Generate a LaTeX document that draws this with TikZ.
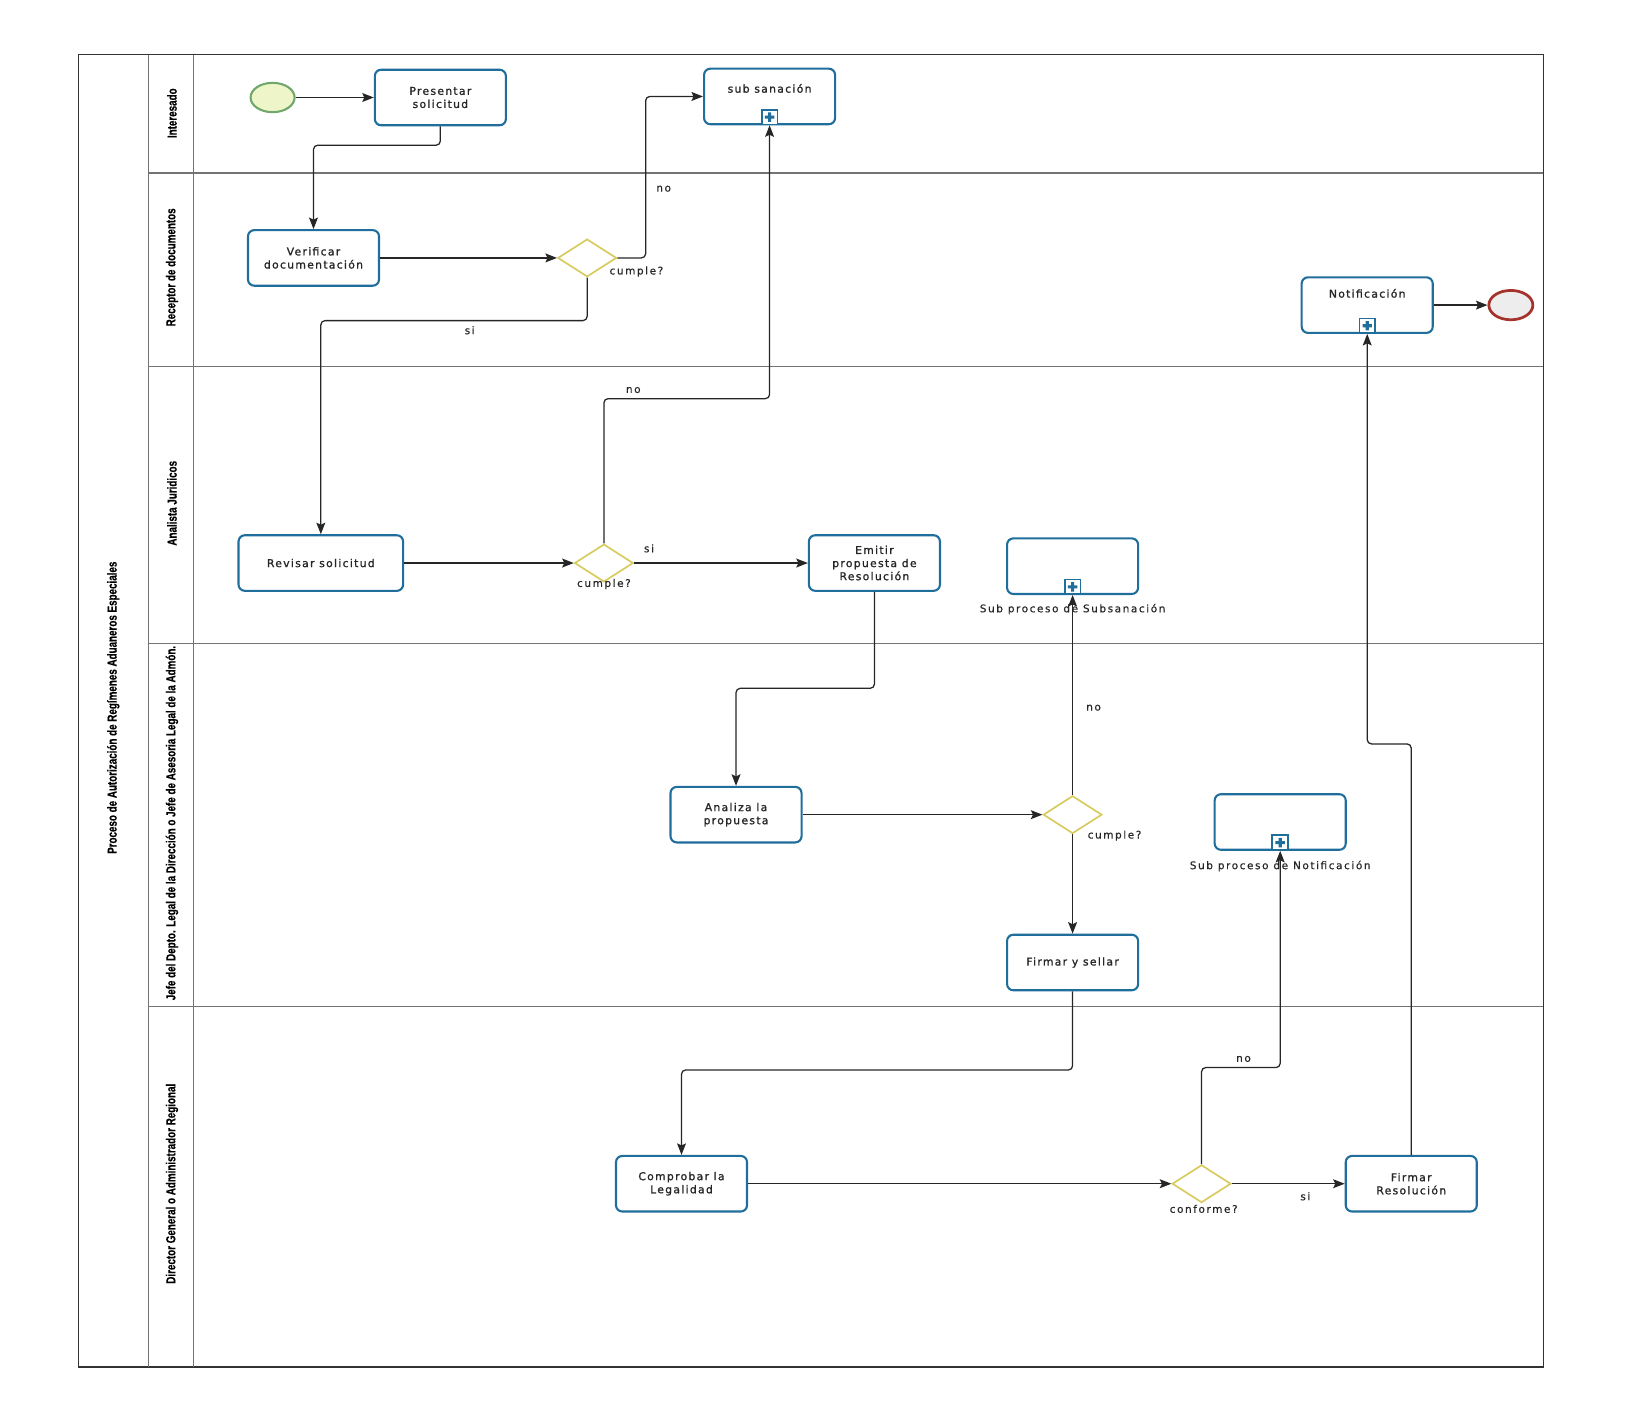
\documentclass[tikz,border=0pt]{standalone}
\usepackage{fontspec}
\usepackage{graphicx}
\setmainfont{DejaVu Sans}
\newfontfamily\tfont[LetterSpace=12,FakeBold=1.2]{DejaVu Sans}
\newfontfamily\lfont[LetterSpace=15,FakeBold=0.4]{DejaVu Sans}
\newfontfamily\hfont[FakeBold=0.6]{Liberation Sans}
\usetikzlibrary{shapes.geometric,arrows.meta}
\newcommand{\lanetxt}[1]{\scalebox{0.75}[1]{\hfont\fontsize{12.5}{14}\selectfont\bfseries #1}}
\definecolor{taskblue}{HTML}{1F6E9C}
\definecolor{gwyellow}{HTML}{D8CB5E}
\definecolor{startgreen}{HTML}{6FA86A}
\definecolor{startfill}{HTML}{EEF5C8}
\definecolor{endred}{HTML}{A5322B}
\begin{document}
\begin{tikzpicture}[x=1pt,y=-1pt,
  task/.style={draw=taskblue,line width=2pt,rounded corners=6pt,fill=white,minimum width=125pt,minimum height=53pt,align=center,inner sep=2pt,text=black!85,font=\tfont\fontsize{10.3}{12.5}\selectfont},
  gw/.style={diamond,draw=gwyellow,line width=1.6pt,fill=white,minimum width=56pt,minimum height=36pt,inner sep=0pt},
  lbl/.style={font=\lfont\fontsize{10}{12}\selectfont,inner sep=1pt,text=black!85},
  flow/.style={draw=black!85,line width=1.2pt,rounded corners=4pt,-{Stealth[length=11pt,width=8.5pt,inset=2pt]}},
  lane/.style={draw=black!55,line width=1pt},
  submark/.style={draw=taskblue,line width=1.6pt,fill=white,minimum width=15pt,minimum height=14pt,inner sep=0pt,anchor=south,
    path picture={\fill[taskblue,shift={(path picture bounding box.center)}] (-4.5,-1.5) rectangle (4.5,1.5) (-1.5,-4.5) rectangle (1.5,4.5);}},
  startev/.style={ellipse,draw=startgreen,line width=2pt,fill=startfill,minimum width=42pt,minimum height=28pt,inner sep=0pt},
  endev/.style={ellipse,draw=endred,line width=2.6pt,fill=black!7,minimum width=42pt,minimum height=28pt,inner sep=0pt},
  lanelbl/.style={rotate=90,inner sep=0pt}
]
\useasboundingbox (0,0) rectangle (1568,1356);
% pool and lanes
\draw[draw=black!80,line width=1.4pt] (75,52) rectangle (1472,1304);
\draw[lane] (142,52) -- (142,1304);
\draw[lane] (185,52) -- (185,1304);
\draw[lane] (142,165) -- (1472,165);
\draw[lane] (142,350) -- (1472,350);
\draw[lane] (142,614) -- (1472,614);
\draw[lane] (142,960) -- (1472,960);
\node[lanelbl] (title) at (108,675) {\lanetxt{Proceso de Autorización de Regímenes Aduaneros Especiales}};
\node[lanelbl] (l1) at (164,108) {\lanetxt{Interesado}};
\node[lanelbl] (l2) at (164,255) {\lanetxt{Receptor de documentos}};
\node[lanelbl] (l3) at (164,480) {\lanetxt{Analista Juridicos}};
\node[lanelbl] (l4) at (164,785) {\lanetxt{Jefe del Depto. Legal de la Dirección o Jefe de Asesoria Legal de la Admón.}};
\node[lanelbl] (l5) at (164,1129) {\lanetxt{Director General o Administrador Regional}};
% nodes
\node[startev] (start) at (260,93) {};
\node[task] (pres) at (420,93) {Presentar\\solicitud};
\node[task] (sub) at (734,92) {sub sanación\\[3pt]};
\node[submark] (subm) at (sub.south) {};
\node[task] (ver) at (299,246) {Verificar\\documentación};
\node[gw] (g1) at (560,246) {};
\node[lbl] (g1l) at (607,259) {cumple?};
\node[task] (notif) at (1304,291) {Notificación\\[10pt]};
\node[submark] (notifm) at (notif.south) {};
\node[endev] (end) at (1441,291) {};
\node[task,minimum width=157pt] (rev) at (306,537) {Revisar solicitud};
\node[gw] (g2) at (576,537) {};
\node[lbl] (g2l) at (576,557) {cumple?};
\node[task] (emit) at (834,537) {Emitir\\propuesta de\\Resolución};
\node[task] (sps) at (1023,540) {};
\node[submark] (spsm) at (sps.south) {};
\node[lbl] (spsl) at (1023,581) {Sub proceso de Subsanación};
\node[task] (ana) at (702,777) {Analiza la\\propuesta};
\node[gw] (g3) at (1023,777) {};
\node[lbl] (g3l) at (1063,797) {cumple?};
\node[task] (spn) at (1221,784) {};
\node[submark] (spnm) at (spn.south) {};
\node[lbl] (spnl) at (1221,826) {Sub proceso de Notificación};
\node[task] (fys) at (1023,918) {Firmar y sellar};
\node[task] (comp) at (650,1129) {Comprobar la\\Legalidad};
\node[gw] (g4) at (1146,1129) {};
\node[lbl] (g4l) at (1148,1153) {conforme?};
\node[task] (fres) at (1346,1129) {Firmar\\Resolución};
% connectors
\draw[flow] (start) -- (pres);
\draw[flow] (pres.south) -- ++(0,18) -| (ver.north);
\draw[flow] (ver) -- (g1);
\draw[flow] (g1.east) -- ++(27,0) |- (sub.west);
\node[lbl] (no1) at (633,180) {no};
\draw[flow] (g1.south) -- ++(0,41) -| (rev.north);
\node[lbl] (si1) at (448,315) {si};
\draw[flow] (rev) -- (g2);
\draw[flow] (g2.north) -- ++(0,-138) -| (sub.south);
\node[lbl] (no2) at (604,372) {no};
\draw[flow] (g2) -- (emit);
\node[lbl] (si2) at (619,523) {si};
\draw[flow] (emit.south) -- ++(0,92) -| (ana.north);
\draw[flow] (ana) -- (g3);
\draw[flow] (g3.north) -- (sps.south);
\node[lbl] (no3) at (1043,675) {no};
\draw[flow] (g3.south) -- (fys.north);
\draw[flow] (fys.south) -- ++(0,75) -| (comp.north);
\draw[flow] (comp) -- (g4);
\draw[flow] (g4.north) -- ++(0,-92) -| (spn.south);
\node[lbl] (no4) at (1186,1010) {no};
\draw[flow] (g4) -- (fres);
\node[lbl] (si4) at (1245,1141) {si};
\draw[flow] (fres.north) -- ++(0,-392) -| (notif.south);
\draw[flow] (notif) -- (end);
\end{tikzpicture}
\end{document}
